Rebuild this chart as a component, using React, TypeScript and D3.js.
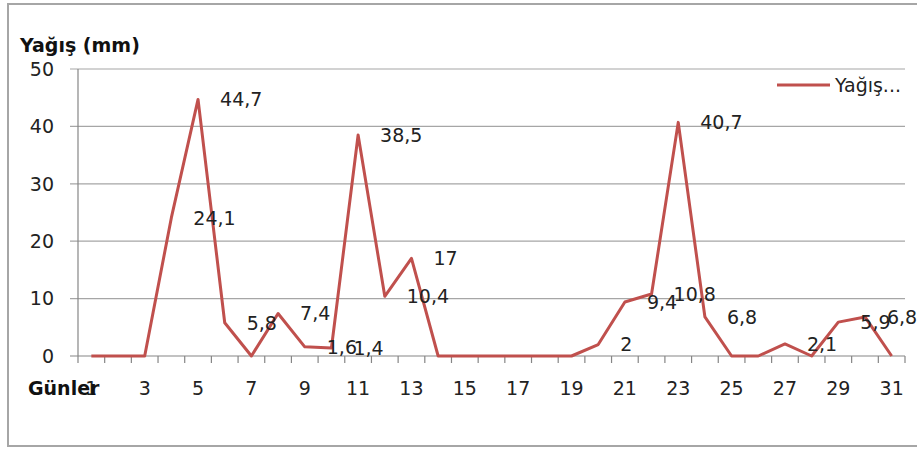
import React from "react";
import * as d3 from "d3";

const days: number[] = Array.from({ length: 31 }, (_, i) => i + 1);
const rainfall: number[] = [0, 0, 0, 24.1, 44.7, 5.8, 0, 7.4, 1.6, 1.4, 38.5, 10.4, 17, 0, 0, 0, 0, 0, 0, 2, 9.4, 10.8, 40.7, 6.8, 0, 0, 2.1, 0, 5.9, 6.8, 0];
const yTicks: number[] = [0, 10, 20, 30, 40, 50];
const xTickLabels: number[] = days.filter((d) => d % 2 === 1);
const yTitle = "Yağış (mm)";
const xTitle = "Günler";
const legendLabel = "Yağış...";

const W = 917;
const H = 449;
const left = 78;
const right = 905;
const top = 69;
const bottom = 356;
const RED = "#C0504D";
const FONT = "DejaVu Sans, sans-serif";

export default function App() {
  const x = d3.scaleBand<number>().domain(days).range([left, right]).paddingInner(0).paddingOuter(0);
  const y = d3.scaleLinear().domain([0, 50]).range([bottom, top]);
  const cx = (d: number) => (x(d) as number) + x.bandwidth() / 2;
  const line = d3
    .line<number>()
    .x((_, i) => cx(days[i]))
    .y((v) => y(v));
  const fmt = (v: number) => String(v).replace(".", ",");
  const boundaries = d3.range(days.length + 1).map((i) => left + i * x.bandwidth());

  return (
    <svg width={W} height={H} style={{ position: "absolute", left: 0, top: 0, background: "#fff" }} fontFamily={FONT}>
      <rect x={8} y={4} width={W + 20} height={442} fill="#fff" stroke="#a6a6a6" strokeWidth={2} />
      {yTicks.map((t) => (
        <g key={t}>
          <line x1={70} x2={right} y1={y(t)} y2={y(t)} stroke={t === 0 ? "#868686" : "#a6a6a6"} strokeWidth={1.2} />
          <text x={54} y={y(t)} dy="0.36em" textAnchor="end" fontSize={19} fill="#222">
            {t}
          </text>
        </g>
      ))}
      <line x1={left} x2={left} y1={top} y2={bottom} stroke="#868686" strokeWidth={1.2} />
      {boundaries.map((bx, i) => (
        <line key={i} x1={bx} x2={bx} y1={bottom} y2={bottom + 7} stroke="#868686" strokeWidth={1.2} />
      ))}
      {xTickLabels.map((d) => (
        <text key={d} x={cx(d)} y={388} dy="0.36em" textAnchor="middle" fontSize={19} fill="#222">
          {d}
        </text>
      ))}
      <text x={28} y={388} dy="0.36em" fontSize={19} fontWeight="bold" fill="#111">
        {xTitle}
      </text>
      <text x={20} y={52} fontSize={19} fontWeight="bold" fill="#111">
        {yTitle}
      </text>
      <path d={line(rainfall) as string} fill="none" stroke={RED} strokeWidth={3} strokeLinejoin="round" />
      {rainfall.map((v, i) =>
        v > 0 ? (
          <text key={i} x={cx(days[i]) + 22} y={y(v)} dy="0.36em" fontSize={19} fill="#222">
            {fmt(v)}
          </text>
        ) : null
      )}
      <line x1={777} x2={830} y1={85} y2={85} stroke={RED} strokeWidth={3} />
      <text x={835} y={85} dy="0.36em" fontSize={19} fill="#222">
        {legendLabel}
      </text>
    </svg>
  );
}
